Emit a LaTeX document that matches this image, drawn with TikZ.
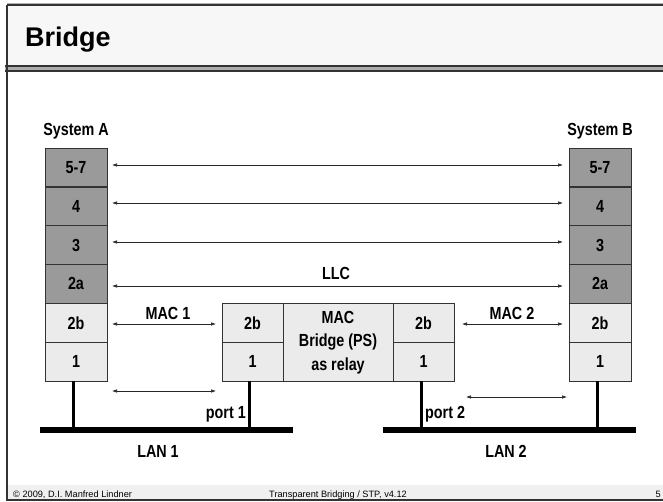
\documentclass[tikz,border=0pt]{standalone}
\usepackage{fontspec}
\setmainfont{Liberation Sans}
\newfontfamily\nar[FakeStretch=0.82]{Liberation Sans}
\usetikzlibrary{arrows.meta}
\definecolor{dkbox}{HTML}{9A9A9A}
\definecolor{ltbox}{HTML}{EBEBEB}
\definecolor{titlebg}{HTML}{F7F7F7}
\definecolor{footbg}{HTML}{F0F0F0}
\definecolor{frame}{HTML}{333333}
\newcommand{\lab}{\nar\bfseries\fontsize{17.5}{23.5}\selectfont}
\tikzset{
  lay/.style={draw=frame, line width=0.8pt, minimum width=62pt, minimum height=38.8pt,
    inner sep=0pt, outer sep=0pt, font=\lab},
  dk/.style={lay, fill=dkbox},
  lt/.style={lay, fill=ltbox},
  arr/.style={{Latex[length=5pt,width=3.5pt]}-{Latex[length=5pt,width=3.5pt]}, line width=0.6pt, draw=black!85},
  drop/.style={line width=3pt, draw=black},
  lanbar/.style={fill=black, minimum width=253pt, minimum height=6pt, inner sep=0pt, outer sep=0pt},
  lbl/.style={font=\lab, inner sep=0pt},
  foot/.style={font=\fontsize{9.2}{11}\selectfont, inner sep=0pt}
}
\begin{document}
\begin{tikzpicture}[x=1pt,y=-1pt]
\useasboundingbox (0,0) rectangle (663,501);
% frame
\fill[titlebg] (7,5) rectangle (663,65);
\draw[gray!60, line width=1pt] (7,3.5) -- (663,3.5);
\draw[frame, line width=1.5pt] (7,5) -- (663,5);
\fill[frame] (5,64.5) rectangle (663,66.5);
\fill[gray!65] (5,66.5) rectangle (663,70);
\fill[frame] (5,70) rectangle (663,72);
\fill[footbg] (8,485) rectangle (663,499);
\draw[frame, line width=1.5pt] (7,4.5) -- (7,500.2);
\draw[frame, line width=1.6pt] (6.3,500.2) -- (663,500.2);
% title
\node[anchor=base west, font=\bfseries\fontsize{27}{30}\selectfont, inner sep=0pt] (title) at (25,46) {Bridge};
% footer
\node[foot, anchor=base west] (fl) at (13,497) {© 2009, D.I. Manfred Lindner};
\node[foot, anchor=base] (fm) at (338,497) {Transparent Bridging / STP, v4.12};
\node[foot, anchor=base east] (fr) at (661,497) {5};
% system labels
\node[lbl, anchor=base] (sysA) at (76,135) {System A};
\node[lbl, anchor=base] (sysB) at (600,135) {System B};
% stack A
\node[dk] (a57) at (76,167.4) {5-7};
\node[dk] (a4)  at (76,206.3) {4};
\node[dk] (a3)  at (76,245.1) {3};
\node[dk] (a2a) at (76,283.9) {2a};
\node[lt] (a2b) at (76,322.8) {2b};
\node[lt] (a1)  at (76,361.6) {1};
% stack B
\node[dk] (b57) at (600,167.4) {5-7};
\node[dk] (b4)  at (600,206.3) {4};
\node[dk] (b3)  at (600,245.1) {3};
\node[dk] (b2a) at (600,283.9) {2a};
\node[lt] (b2b) at (600,322.8) {2b};
\node[lt] (b1)  at (600,361.6) {1};
% bridge
\node[lt, minimum width=61pt] (l2b) at (252.5,322.8) {2b};
\node[lt, minimum width=61pt] (l1)  at (252.5,361.6) {1};
\node[lt, minimum width=110pt, minimum height=77.6pt, align=center] (relay) at (338,342.2) {MAC\\Bridge (PS)\\as relay};
\node[lt, minimum width=61pt] (r2b) at (423.5,322.8) {2b};
\node[lt, minimum width=61pt] (r1)  at (423.5,361.6) {1};
% peer arrows
\draw[arr] ([xshift=5pt,yshift=2.4pt]a57.east) -- ([xshift=-6pt,yshift=2.4pt]b57.west);
\draw[arr] ([xshift=5pt,yshift=3.3pt]a4.east) -- ([xshift=-6pt,yshift=3.3pt]b4.west);
\draw[arr] ([xshift=5pt,yshift=3.1pt]a3.east) -- ([xshift=-6pt,yshift=3.1pt]b3.west);
\draw[arr] ([xshift=5pt,yshift=-2.1pt]a2a.east) -- ([xshift=-6pt,yshift=-2.1pt]b2a.west);
\node[lbl, anchor=base] (llc) at (336,279) {LLC};
\draw[arr] ([xshift=5pt,yshift=-1.2pt]a2b.east) -- ([xshift=-6pt,yshift=-1.2pt]l2b.west);
\node[lbl, anchor=base] (mac1) at (168,319) {MAC 1};
\draw[arr] ([xshift=8pt,yshift=-1.2pt]r2b.east) -- ([xshift=-6pt,yshift=-1.2pt]b2b.west);
\node[lbl, anchor=base] (mac2) at (512,319) {MAC 2};
\draw[arr] ([xshift=5pt,yshift=-29.4pt]a1.east) -- ([xshift=-6pt,yshift=-29.4pt]l1.west);
\draw[arr] ([xshift=12pt,yshift=-35.4pt]r1.east) -- ([xshift=-2pt,yshift=-35.4pt]b1.west);
% LANs
\node[lanbar] (lan1) at (166.5,430) {};
\node[lanbar] (lan2) at (509.5,430) {};
\draw[drop] ([xshift=-3pt]a1.south) -- ([xshift=-3pt]a1.south |- lan1.center);
\draw[drop] ([xshift=-3.5pt]l1.south) -- ([xshift=-3.5pt]l1.south |- lan1.center);
\draw[drop] ([xshift=-2.5pt]r1.south) -- ([xshift=-2.5pt]r1.south |- lan2.center);
\draw[drop] ([xshift=-3pt]b1.south) -- ([xshift=-3pt]b1.south |- lan2.center);
\node[lbl, anchor=base east] (port1) at (246,418) {port 1};
\node[lbl, anchor=base west] (port2) at (425,418.5) {port 2};
\node[lbl, anchor=base] (lanA) at (158,457) {LAN 1};
\node[lbl, anchor=base] (lanB) at (506,457) {LAN 2};
\end{tikzpicture}
\end{document}
